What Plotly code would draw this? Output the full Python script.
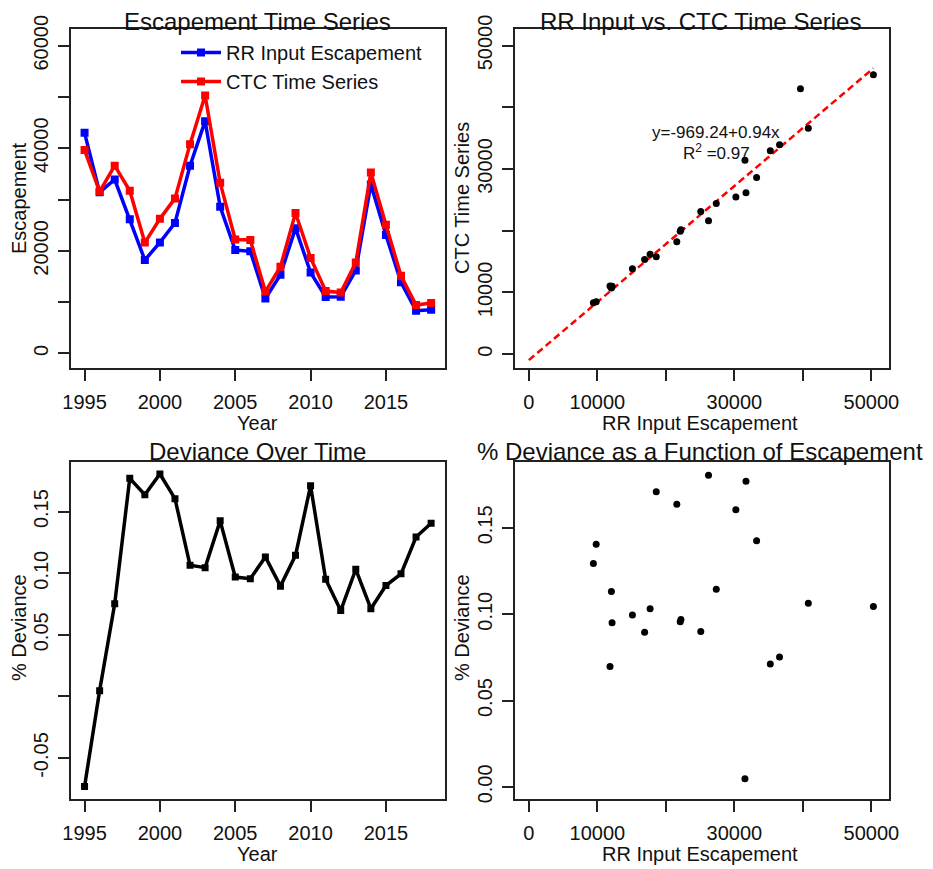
import plotly.graph_objects as go

# ---------------- data ----------------
years = list(range(1995, 2019))
rr_escapement = [43000, 31400, 33900, 26130, 18200, 21620, 25440, 36600, 45280, 28600,
                 20150, 19900, 10700, 15340, 24420, 15760, 11000, 11020, 16180, 32950,
                 23100, 13850, 8330, 8490]
ctc_series = [39650, 31550, 36600, 31700, 21600, 26230, 30220, 40800, 50300, 33250,
              22200, 22100, 12050, 16900, 27360, 18600, 12150, 11850, 17700, 35250,
              25100, 15120, 9420, 9830]
pct_deviance = [-0.0732, 0.0047, 0.0752, 0.1770, 0.1637, 0.1805, 0.1605, 0.1064, 0.1045, 0.1425,
                0.0969, 0.0956, 0.1132, 0.0895, 0.1145, 0.1710, 0.0951, 0.0697, 0.1032, 0.0712,
                0.0900, 0.0995, 0.1294, 0.1405]
fit_intercept = -969.24
fit_slope = 0.94
fit_r2 = 0.97

year_ticks = [1995, 2000, 2005, 2010, 2015]
esc_labeled_tl = [0, 20000, 40000, 60000]
esc_minor_tl = [10000, 30000, 50000]
esc_labeled = [0, 10000, 30000, 50000]
esc_minor = [20000, 40000]
dev_labeled_bl = [-0.05, 0.05, 0.10, 0.15]
dev_labels_bl = ["-0.05", "0.05", "0.10", "0.15"]
dev_minor_bl = [0.0]
dev_labeled_br = [0.0, 0.05, 0.10, 0.15]
dev_labels_br = ["0.00", "0.05", "0.10", "0.15"]

# ---------------- layout helpers ----------------
OFF = 8  # default page margin around the figure
W, H = 933 - OFF, 869 - OFF
FONT = "Liberation Sans, Arial, sans-serif"
TXT = "#111111"
AX = "#222222"


def fx(p):
    return (p - OFF) / W


def fy(p):
    return 1 - (p - OFF) / H


boxes = {
    1: (70.7, 445.0, 29.3, 367.7),
    2: (515.0, 889.3, 29.3, 367.7),
    3: (70.7, 445.0, 461.7, 799.3),
    4: (515.0, 889.3, 462.3, 799.3),
}

axis_common = dict(
    showline=True, mirror=True, linecolor=AX, linewidth=2,
    ticks="outside", ticklen=11, tickwidth=1.5, tickcolor=AX,
    showgrid=False, zeroline=False, automargin=False,
    tickfont=dict(size=20, color=TXT, family=FONT),
)


def minor(vals):
    return dict(tickvals=vals, ticks="outside", ticklen=11, tickwidth=1.5,
                tickcolor=AX, showgrid=False)


fig = go.Figure()

# panel 1: time series
fig.add_trace(go.Scatter(
    x=years, y=rr_escapement, mode="lines+markers", name="RR Input Escapement",
    line=dict(color="#0000ff", width=3.5), marker=dict(symbol="square", size=8, color="#0000ff"),
    xaxis="x", yaxis="y"))
fig.add_trace(go.Scatter(
    x=years, y=ctc_series, mode="lines+markers", name="CTC Time Series",
    line=dict(color="#ff0000", width=3.5), marker=dict(symbol="square", size=8, color="#ff0000"),
    xaxis="x", yaxis="y"))

# panel 2: scatter with fit
fit_x = [0, max(ctc_series)]
fit_y = [fit_intercept + fit_slope * v for v in fit_x]
fig.add_trace(go.Scatter(
    x=fit_x, y=fit_y, mode="lines", showlegend=False,
    line=dict(color="#ff0000", width=2.5, dash="7px,4px"), xaxis="x2", yaxis="y2"))
fig.add_trace(go.Scatter(
    x=ctc_series, y=rr_escapement, mode="markers", showlegend=False,
    marker=dict(symbol="circle", size=7, color="black"), xaxis="x2", yaxis="y2"))

# panel 3: deviance over time
fig.add_trace(go.Scatter(
    x=years, y=pct_deviance, mode="lines+markers", showlegend=False,
    line=dict(color="black", width=3.5), marker=dict(symbol="square", size=7, color="black"),
    xaxis="x3", yaxis="y3"))

# panel 4: deviance vs escapement
fig.add_trace(go.Scatter(
    x=ctc_series, y=pct_deviance, mode="markers", showlegend=False,
    marker=dict(symbol="circle", size=7, color="black"), xaxis="x4", yaxis="y4"))

ranges = {
    1: ([1994.08, 2018.92], [-2800, 63200]),
    2: ([-2024, 52624], [-2200, 52624]),
    3: ([1994.08, 2018.92], [-0.0835, 0.1905]),
    4: ([-2024, 52624], [-0.0072, 0.188]),
}
xticks = {1: (year_ticks, [str(v) for v in year_ticks], []),
          2: (esc_labeled, [str(v) for v in esc_labeled], esc_minor),
          3: (year_ticks, [str(v) for v in year_ticks], []),
          4: (esc_labeled, [str(v) for v in esc_labeled], esc_minor)}
yticks = {1: (esc_labeled_tl, [str(v) for v in esc_labeled_tl], esc_minor_tl),
          2: (esc_labeled, [str(v) for v in esc_labeled], esc_minor),
          3: (dev_labeled_bl, dev_labels_bl, dev_minor_bl),
          4: (dev_labeled_br, dev_labels_br, [])}

layout = dict(
    width=W, height=H, margin=dict(l=0, r=0, t=0, b=0, autoexpand=False),
    paper_bgcolor="white", plot_bgcolor="white",
    font=dict(family=FONT, color=TXT),
    showlegend=True,
    legend=dict(x=fx(176), y=fy(33), xanchor="left", yanchor="top",
                bgcolor="rgba(0,0,0,0)", font=dict(size=20, family=FONT, color=TXT),
                tracegroupgap=0, itemwidth=40),
)
for i in range(1, 5):
    x0, x1, y0, y1 = boxes[i]
    sx = "" if i == 1 else str(i)
    xa = dict(axis_common, domain=[fx(x0), fx(x1)], range=ranges[i][0],
              anchor="y" + sx, tickvals=xticks[i][0], ticktext=xticks[i][1],
              ticklabelstandoff=4)
    if xticks[i][2]:
        xa["minor"] = minor(xticks[i][2])
    ya = dict(axis_common, domain=[fy(y1), fy(y0)], range=ranges[i][1],
              anchor="x" + sx, tickvals=yticks[i][0], ticktext=yticks[i][1],
              tickangle=-90, ticklabelstandoff=2)
    if yticks[i][2]:
        ya["minor"] = minor(yticks[i][2])
    layout["xaxis" + sx] = xa
    layout["yaxis" + sx] = ya
fig.update_layout(**layout)

ann = []


def text(x, y, s, size, angle=0):
    ann.append(dict(x=fx(x), y=fy(y), xref="paper", yref="paper", text=s, showarrow=False,
                    xanchor="center", yanchor="middle", textangle=angle,
                    font=dict(size=size, family=FONT, color=TXT)))


# titles
text(257, 22, "Escapement Time Series", 24)
text(700, 22, "RR Input vs. CTC Time Series", 24)
text(257, 451, "Deviance Over Time", 24)
text(700, 451, "% Deviance as a Function of Escapement", 24)
# axis titles
text(257, 423, "Year", 20)
text(700, 423, "RR Input Escapement", 20)
text(257, 854, "Year", 20)
text(700, 854, "RR Input Escapement", 20)
text(19, 198, "Escapement", 20, -90)
text(462, 198, "CTC Time Series", 20, -90)
text(19, 628, "% Deviance", 20, -90)
text(462, 628, "% Deviance", 20, -90)

# regression annotation in data coords
ann.append(dict(x=27340, y=35900, xref="x2", yref="y2", showarrow=False,
                text="y=%.2f+%.2fx" % (fit_intercept, fit_slope),
                font=dict(size=17, family=FONT, color=TXT)))
ann.append(dict(x=27340, y=32700, xref="x2", yref="y2", showarrow=False,
                text="R<sup>2</sup> =%.2f" % fit_r2,
                font=dict(size=17, family=FONT, color=TXT)))
fig.update_layout(annotations=ann)

fig.write_html("out.html")
